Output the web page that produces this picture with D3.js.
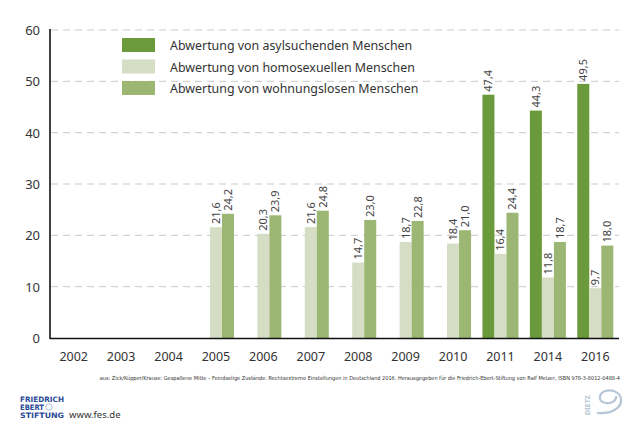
<!DOCTYPE html>
<html>
<head>
<meta charset="utf-8">
<script src="https://cdn.jsdelivr.net/npm/d3@7"></script>
<style>
  body { margin: 0; background: #fff; }
  svg { display: block; font-family: "Noto Sans", "Open Sans", sans-serif; }
</style>
</head>
<body>
<svg id="chart" width="644" height="432"></svg>
<script>
// Data
const years = ["2002", "2003", "2004", "2005", "2006", "2007", "2008", "2009", "2010", "2011", "2014", "2016"];
const seriesNames = [
  "Abwertung von asylsuchenden Menschen",
  "Abwertung von homosexuellen Menschen",
  "Abwertung von wohnungslosen Menschen"
];
const asylValues = [null, null, null, null, null, null, null, null, null, 47.4, 44.3, 49.5];
const homoValues = [null, null, null, 21.6, 20.3, 21.6, 14.7, 18.7, 18.4, 16.4, 11.8, 9.7];
const wohnValues = [null, null, null, 24.2, 23.9, 24.8, 23.0, 22.8, 21.0, 24.4, 18.7, 18.0];
const yTicks = [0, 10, 20, 30, 40, 50, 60];
const sourceText = "aus: Zick/Küpper/Krause: Gespaltene Mitte – Feindselige Zustände. Rechtsextreme Einstellungen in Deutschland 2016. Herausgegeben für die Friedrich-Ebert-Stiftung von Ralf Melzer, ISBN 978-3-8012-0488-4";

const colors = ["#6b9a3c", "#d5dec4", "#9cb774"];
const allSeries = [asylValues, homoValues, wohnValues];

const svg = d3.select("#chart");

// Scales
const x = d3.scaleBand()
  .domain(years)
  .range([50, 619])
  .paddingInner(0.24)
  .paddingOuter(0.12);

const xInner = d3.scaleBand()
  .domain([0, 1, 2])
  .range([0, x.bandwidth()])
  .padding(0);

const y = d3.scaleLinear()
  .domain([0, 60])
  .range([338, 30]);

// Gridlines (dashed)
svg.append("g")
  .selectAll("line")
  .data(yTicks.filter(d => d > 0))
  .enter()
  .append("line")
  .attr("x1", 51)
  .attr("x2", 619)
  .attr("y1", d => y(d))
  .attr("y2", d => y(d))
  .attr("stroke", "#c9c9c9")
  .attr("stroke-width", 1)
  .attr("stroke-dasharray", "7,5");

// Y tick labels
svg.append("g")
  .selectAll("text")
  .data(yTicks)
  .enter()
  .append("text")
  .attr("x", 40)
  .attr("y", d => y(d) + 5)
  .attr("text-anchor", "end")
  .style("font-size", "13px")
  .attr("fill", "#333")
  .text(d => d);

// Legend
const legend = svg.append("g");
seriesNames.forEach((name, i) => {
  const ly = 38 + i * 21.5;
  legend.append("rect")
    .attr("x", 122)
    .attr("y", ly)
    .attr("width", 33)
    .attr("height", 14)
    .attr("fill", colors[i]);
  legend.append("text")
    .attr("x", 170)
    .attr("y", ly + 12)
    .style("font-size", "12.4px")
    .attr("fill", "#333")
    .text(name);
});

// Bars
const fmt = v => d3.format(".1f")(v).replace(".", ",");
allSeries.forEach((values, s) => {
  const g = svg.append("g");
  const pts = years.map((yr, i) => ({ year: yr, value: values[i] })).filter(d => d.value != null);

  g.selectAll("rect")
    .data(pts)
    .enter()
    .append("rect")
    .attr("x", d => x(d.year) + xInner(s))
    .attr("y", d => y(d.value))
    .attr("width", xInner.bandwidth())
    .attr("height", d => y(0) - y(d.value))
    .attr("fill", colors[s]);

  g.selectAll("text")
    .data(pts)
    .enter()
    .append("text")
    .attr("transform", d => `translate(${x(d.year) + xInner(s) + xInner.bandwidth() / 2 + 4},${y(d.value) - 3}) rotate(-90)`)
    .style("font-size", "11px")
    .attr("fill", "#444")
    .text(d => fmt(d.value));
});

// Axes lines
svg.append("line")
  .attr("x1", 50).attr("x2", 50)
  .attr("y1", 29).attr("y2", 339)
  .attr("stroke", "#111").attr("stroke-width", 1.6);
svg.append("line")
  .attr("x1", 50).attr("x2", 619)
  .attr("y1", 338.5).attr("y2", 338.5)
  .attr("stroke", "#111").attr("stroke-width", 1.6);

// X labels
svg.append("g")
  .selectAll("text")
  .data(years)
  .enter()
  .append("text")
  .attr("x", d => x(d) + x.bandwidth() / 2)
  .attr("y", 361)
  .attr("text-anchor", "middle")
  .style("font-size", "12.5px")
  .attr("fill", "#333")
  .text(d => d);

// Source
svg.append("text")
  .attr("x", 620)
  .attr("y", 380)
  .attr("text-anchor", "end")
  .style("font-family", "'Liberation Sans Narrow', 'DejaVu Sans Condensed', sans-serif")
  .style("font-size", "5.55px")
  .attr("fill", "#333")
  .text(sourceText);

// FES logo
const fes = svg.append("g")
  .style("font-family", "'Liberation Sans Narrow', 'DejaVu Sans Condensed', sans-serif")
  .style("font-weight", "bold")
  .style("font-size", "7.4px")
  .attr("fill", "#2b4a97");
["FRIEDRICH", "EBERT", "STIFTUNG"].forEach((t, i) => {
  fes.append("text")
    .attr("x", 20)
    .attr("y", 401.5 + i * 8.2)
    .attr("textLength", i === 1 ? 24 : 44)
    .attr("lengthAdjust", "spacingAndGlyphs")
    .text(t);
});
fes.append("circle")
  .attr("cx", 49).attr("cy", 407).attr("r", 3.2)
  .attr("fill", "none").attr("stroke", "#9fb0d6").attr("stroke-width", 0.8);
svg.append("text")
  .attr("x", 69)
  .attr("y", 418)
  .style("font-size", "9.5px")
  .attr("fill", "#333")
  .text("www.fes.de");

// DIETZ logo
const dietz = svg.append("g").attr("fill", "none").attr("stroke", "#b7c6d6");
dietz.append("text")
  .attr("transform", "translate(590,415) rotate(-90)")
  .attr("stroke", "none")
  .attr("fill", "#b7c6d6")
  .style("font-size", "7px")
  .style("font-weight", "bold")
  .text("DIETZ");
dietz.append("path")
  .attr("d", "M597,413 C612,414 622,408 621,399 C620,392 612,389 605,391 C598,394 598,402 606,403 C612,404 617,400 616,396")
  .attr("stroke-width", 2.2);
</script>
</body>
</html>
